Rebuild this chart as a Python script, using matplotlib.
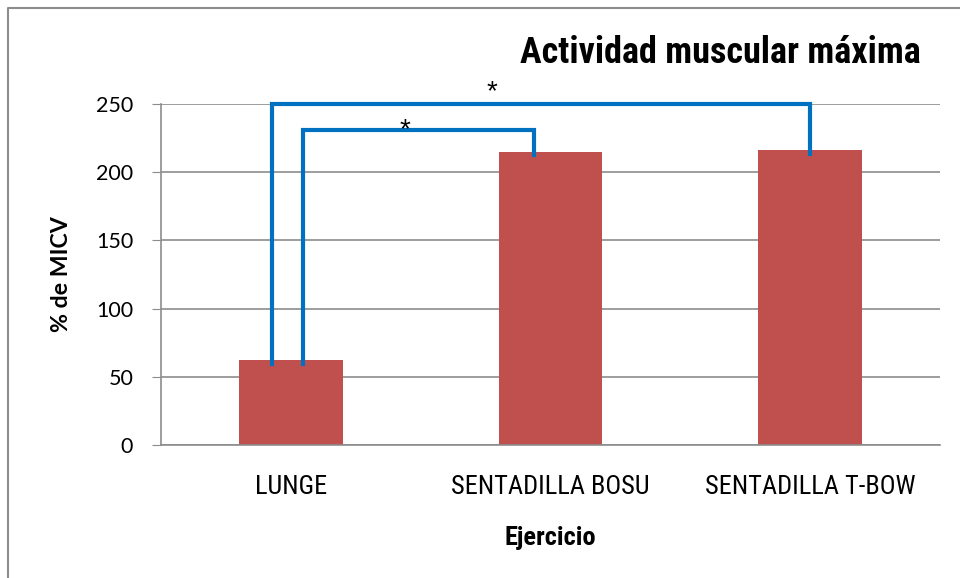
import matplotlib
matplotlib.use("Agg")
import matplotlib.pyplot as plt
from matplotlib import font_manager
from matplotlib.lines import Line2D

# ---------- Datos ----------
categorias = ["LUNGE", "SENTADILLA BOSU", "SENTADILLA T-BOW"]
valores = [62, 215, 216]
y_ticks = [0, 50, 100, 150, 200, 250]

# comparaciones significativas: (barra_a, barra_b, altura)
comparaciones = [(0, 2, 250), (0, 1, 231)]

BAR = "#C0504D"
AZUL = "#0070C0"
GRIS = "#8C8C8C"

# fuente estrecha (tipo Arial Narrow) si existe, si no Liberation Sans
_nombres = {f.name for f in font_manager.fontManager.ttflist}
_estrecha = next((n for n in ["Liberation Sans Narrow", "Arial Narrow", "Roboto Condensed",
                              "Open Sans Condensed", "DejaVu Sans Condensed"] if n in _nombres), None)
NARROW = [_estrecha or "Liberation Sans", "DejaVu Sans"]
k = 1.0 if _estrecha else 0.86   # compensar anchura si no hay fuente estrecha
SANS = ["Lato", "DejaVu Sans"]

fig = plt.figure(figsize=(9.6, 5.78), dpi=100)
ax = fig.add_axes([161 / 960, 1 - 445 / 578, (940 - 161) / 960, (445 - 104) / 578])

x = list(range(len(categorias)))
ax.bar(x, valores, width=0.4, color=BAR, zorder=2)

ax.set_xlim(-0.5, 2.5)
ax.set_ylim(0, 250)
ax.set_yticks(y_ticks)
ax.yaxis.grid(True, color=GRIS, lw=1.2, zorder=0)
ax.set_axisbelow(True)
for s in ["top", "right"]:
    ax.spines[s].set_visible(False)
for s in ["left", "bottom"]:
    ax.spines[s].set_color(GRIS)
    ax.spines[s].set_linewidth(1.2)

ax.set_xticks(x)
ax.set_xticklabels(categorias, family=NARROW, fontsize=19 * k)
ax.tick_params(axis="x", length=0, pad=21.5)
ax.tick_params(axis="y", length=6.5, color=GRIS, pad=13.5, labelsize=15.5)
for t in ax.get_yticklabels():
    t.set_family(SANS)

ax.set_ylabel("% de MICV", family=SANS, fontweight="bold", fontsize=16.7)
ax.yaxis.set_label_coords((72 - 161) / 779, 0.5)
ax.set_xlabel("Ejercicio", family=NARROW, fontweight="bold", fontsize=19 * k)
ax.xaxis.set_label_coords(0.5, (445 - 526) / 341)

# ---------- Corchetes de significancia ----------
offs_izq = {250: -0.073, 231: 0.046}
offs_der = {250: 0.0, 231: -0.062}
for a, b, h in comparaciones:
    xa = a + offs_izq[h]
    xb = b + offs_der[h]
    ax.plot([xa, xa, xb, xb], [valores[a] - 2.5, h, h, valores[b] - 2.5],
            color=AZUL, lw=3, solid_joinstyle="miter", clip_on=False, zorder=3)
    xm = (a + b) / 2 - (0.226 if h == 250 else 0.06)
    ax.text(xm, h + 9 if h == 250 else h, "*", ha="center", va="center",
            fontsize=20, family=["Liberation Sans", "DejaVu Sans"], clip_on=False)

# ---------- Título y marco ----------
fig.text(921 / 960, 1 - 63 / 578, "Actividad muscular máxima", ha="right", va="baseline",
         family=NARROW, fontweight="bold", fontsize=26 * k)
fig.add_artist(Line2D([8 / 960, 8 / 960, 1.0], [0.0, 1 - 8 / 578, 1 - 8 / 578],
                      transform=fig.transFigure, color=GRIS, lw=1.5))

fig.savefig("out.png", dpi=100)
